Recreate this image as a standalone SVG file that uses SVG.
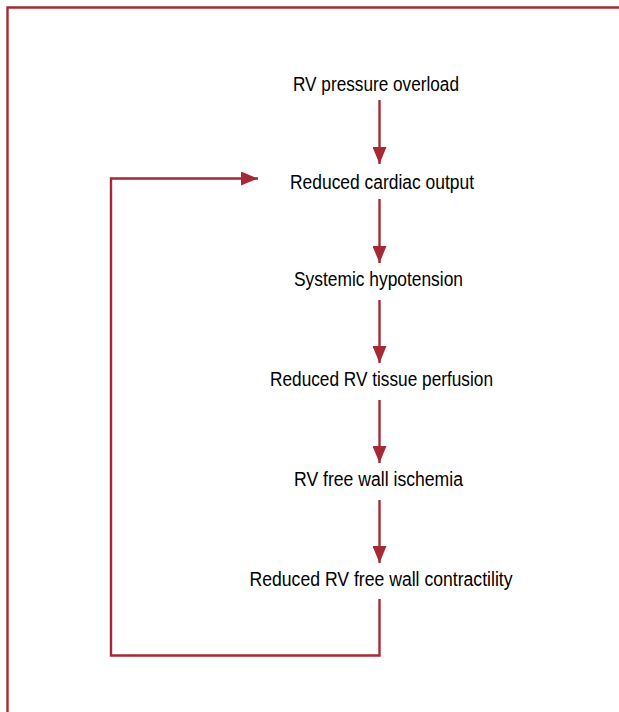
<svg xmlns="http://www.w3.org/2000/svg" width="619" height="712" viewBox="0 0 619 712">
<style>
.t{font-family:"Liberation Sans",Arial,sans-serif;font-size:19.5px;fill:#000;text-anchor:middle}
.c{fill:none;stroke:#a52a36;stroke-width:2.4}
</style>
<defs>
<marker id="ah" markerUnits="userSpaceOnUse" markerWidth="17" markerHeight="14" refX="17" refY="7" orient="auto" viewBox="0 0 17 14">
<path d="M0,0 L17,7 L0,14 Z" fill="#a52a36"/>
</marker>
</defs>
<rect width="619" height="712" fill="#fff"/>
<path d="M7.5,712 V7.5 H619" fill="none" stroke="#a52a36" stroke-width="2.4"/>
<g id="n1"><text class="t" x="376" y="91" textLength="166" lengthAdjust="spacingAndGlyphs">RV pressure overload</text></g>
<g id="n2"><text class="t" x="382" y="189" textLength="184" lengthAdjust="spacingAndGlyphs">Reduced cardiac output</text></g>
<g id="n3"><text class="t" x="378.5" y="286" textLength="169" lengthAdjust="spacingAndGlyphs">Systemic hypotension</text></g>
<g id="n4"><text class="t" x="381.5" y="386" textLength="223" lengthAdjust="spacingAndGlyphs">Reduced RV tissue perfusion</text></g>
<g id="n5"><text class="t" x="378.5" y="486" textLength="169" lengthAdjust="spacingAndGlyphs">RV free wall ischemia</text></g>
<g id="n6"><text class="t" x="381" y="586" textLength="263" lengthAdjust="spacingAndGlyphs">Reduced RV free wall contractility</text></g>
<g id="connectors">
<path class="c" d="M379.5,100 V164" marker-end="url(#ah)"/>
<path class="c" d="M379.5,199 V263" marker-end="url(#ah)"/>
<path class="c" d="M379.5,300 V363" marker-end="url(#ah)"/>
<path class="c" d="M379.5,400 V463" marker-end="url(#ah)"/>
<path class="c" d="M379.5,500 V563" marker-end="url(#ah)"/>
<path class="c" d="M379.5,599 V655.5 H111 V178.5 H258" marker-end="url(#ah)"/>
</g>
</svg>
